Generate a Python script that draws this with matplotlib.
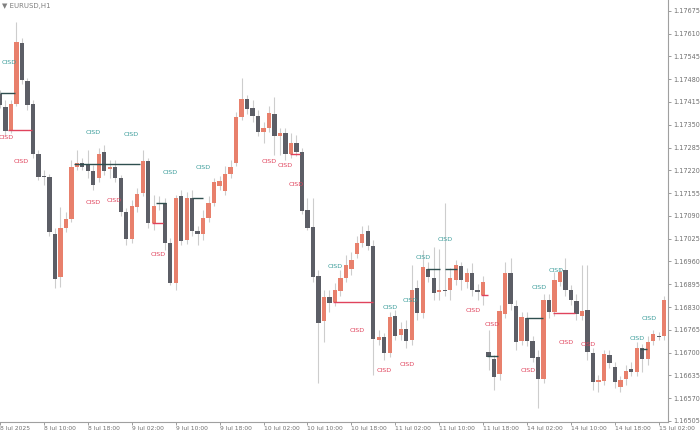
import numpy as np
import matplotlib
matplotlib.use("Agg")
from matplotlib import pyplot as plt

# EURUSD H1 candles (bar 0 = left edge)
opens = [1.17438, 1.17401, 1.17335, 1.17410, 1.17583, 1.17475, 1.17410, 1.17267, 1.17204, 1.17201,
         1.17038, 1.16915, 1.17055, 1.17081, 1.17230, 1.17241, 1.17238, 1.17218, 1.17198, 1.17273,
         1.17224, 1.17230, 1.17198, 1.17101, 1.17024, 1.17115, 1.17156, 1.17247, 1.17069, 1.17126,
         1.17126, 1.17012, 1.16898, 1.17147, 1.17021, 1.17141, 1.17047, 1.17038, 1.17084, 1.17126,
         1.17176, 1.17161, 1.17210, 1.17241, 1.17372, 1.17424, 1.17398, 1.17375, 1.17330, 1.17341,
         1.17381, 1.17318, 1.17327, 1.17267, 1.17298, 1.17273, 1.17106, 1.17058, 1.16918, 1.16790,
         1.16858, 1.16844, 1.16875, 1.16912, 1.16938, 1.16981, 1.17012, 1.17047, 1.17004, 1.16736,
         1.16744, 1.16699, 1.16804, 1.16750, 1.16767, 1.16736, 1.16884, 1.16813, 1.16938, 1.16912,
         1.16873, 1.16878, 1.16878, 1.16907, 1.16947, 1.16901, 1.16927, 1.16878, 1.16864, 1.16702,
         1.16682, 1.16639, 1.16810, 1.16927, 1.16833, 1.16733, 1.16799, 1.16733, 1.16687, 1.16625,
         1.16850, 1.16816, 1.16901, 1.16935, 1.16878, 1.16847, 1.16804, 1.16821, 1.16699, 1.16616,
         1.16619, 1.16693, 1.16659, 1.16602, 1.16625, 1.16653, 1.16645, 1.16713, 1.16682, 1.16733,
         1.16747, 1.16747]
highs = [1.17449, 1.17421, 1.17421, 1.17643, 1.17598, 1.17483, 1.17421, 1.17278, 1.17221, 1.17210,
         1.17055, 1.17115, 1.17101, 1.17250, 1.17278, 1.17256, 1.17278, 1.17236, 1.17284, 1.17293,
         1.17250, 1.17250, 1.17207, 1.17112, 1.17135, 1.17170, 1.17278, 1.17256, 1.17150, 1.17147,
         1.17141, 1.17027, 1.17150, 1.17164, 1.17159, 1.17164, 1.17061, 1.17106, 1.17147, 1.17198,
         1.17204, 1.17233, 1.17250, 1.17387, 1.17483, 1.17435, 1.17421, 1.17392, 1.17358, 1.17404,
         1.17429, 1.17341, 1.17341, 1.17327, 1.17321, 1.17284, 1.17141, 1.17141, 1.16935, 1.16878,
         1.16878, 1.16898, 1.16935, 1.16978, 1.16987, 1.17032, 1.17061, 1.17064, 1.17021, 1.16764,
         1.16756, 1.16816, 1.16821, 1.16787, 1.16793, 1.16950, 1.16907, 1.16992, 1.16958, 1.17001,
         1.16995, 1.17126, 1.16941, 1.16964, 1.16958, 1.16941, 1.16956, 1.16895, 1.16918, 1.16764,
         1.16693, 1.16835, 1.16958, 1.16970, 1.16850, 1.16816, 1.16816, 1.16747, 1.16707, 1.16867,
         1.16867, 1.16930, 1.16941, 1.16970, 1.16892, 1.16867, 1.16950, 1.16950, 1.16713, 1.16636,
         1.16707, 1.16707, 1.16673, 1.16633, 1.16665, 1.16673, 1.16730, 1.16724, 1.16747, 1.16764,
         1.16759, 1.16861]
lows = [1.17398, 1.17321, 1.17327, 1.17404, 1.17466, 1.17392, 1.17256, 1.17193, 1.17178, 1.17032,
        1.16884, 1.16887, 1.17044, 1.17072, 1.17221, 1.17221, 1.17198, 1.17164, 1.17187, 1.17207,
        1.17198, 1.17187, 1.17089, 1.17007, 1.17012, 1.17101, 1.17147, 1.17055, 1.17049, 1.17106,
        1.16992, 1.16892, 1.16878, 1.17007, 1.17009, 1.17032, 1.17007, 1.17021, 1.17072, 1.17118,
        1.17164, 1.17150, 1.17198, 1.17233, 1.17364, 1.17381, 1.17358, 1.17318, 1.17298, 1.17330,
        1.17264, 1.17264, 1.17250, 1.17256, 1.17261, 1.17095, 1.17049, 1.16901, 1.16613, 1.16730,
        1.16816, 1.16833, 1.16861, 1.16901, 1.16921, 1.16970, 1.17001, 1.16992, 1.16636, 1.16722,
        1.16679, 1.16687, 1.16736, 1.16736, 1.16713, 1.16722, 1.16793, 1.16799, 1.16901, 1.16850,
        1.16850, 1.16861, 1.16850, 1.16892, 1.16878, 1.16884, 1.16861, 1.16850, 1.16836, 1.16650,
        1.16593, 1.16622, 1.16799, 1.16821, 1.16707, 1.16722, 1.16719, 1.16673, 1.16542, 1.16613,
        1.16799, 1.16804, 1.16890, 1.16861, 1.16836, 1.16793, 1.16793, 1.16679, 1.16593, 1.16588,
        1.16607, 1.16656, 1.16599, 1.16588, 1.16607, 1.16633, 1.16633, 1.16645, 1.16665, 1.16722,
        1.16736, 1.16736]
closes = [1.17407, 1.17333, 1.17410, 1.17586, 1.17478, 1.17407, 1.17267, 1.17201, 1.17201, 1.17044,
          1.16910, 1.17055, 1.17081, 1.17230, 1.17241, 1.17230, 1.17218, 1.17178, 1.17267, 1.17218,
          1.17230, 1.17198, 1.17101, 1.17024, 1.17118, 1.17153, 1.17247, 1.17069, 1.17118, 1.17124,
          1.17012, 1.16898, 1.17141, 1.17018, 1.17141, 1.17047, 1.17038, 1.17084, 1.17126, 1.17187,
          1.17190, 1.17210, 1.17230, 1.17372, 1.17424, 1.17395, 1.17375, 1.17330, 1.17341, 1.17384,
          1.17318, 1.17327, 1.17267, 1.17298, 1.17273, 1.17104, 1.17055, 1.16915, 1.16784, 1.16858,
          1.16841, 1.16878, 1.16912, 1.16950, 1.16964, 1.17012, 1.17038, 1.17004, 1.16739, 1.16744,
          1.16699, 1.16801, 1.16747, 1.16767, 1.16733, 1.16878, 1.16813, 1.16944, 1.16915, 1.16870,
          1.16878, 1.16875, 1.16912, 1.16950, 1.16907, 1.16927, 1.16878, 1.16873, 1.16901, 1.16687,
          1.16630, 1.16819, 1.16927, 1.16839, 1.16730, 1.16801, 1.16733, 1.16685, 1.16625, 1.16850,
          1.16816, 1.16907, 1.16930, 1.16878, 1.16850, 1.16810, 1.16819, 1.16702, 1.16616, 1.16622,
          1.16696, 1.16670, 1.16616, 1.16622, 1.16647, 1.16645, 1.16713, 1.16682, 1.16730, 1.16753,
          1.16744, 1.16850]

# CISD labels: (bar, price)
cisd_bull = [(1.6, 1.17529), (16.9, 1.17327), (23.9, 1.17321), (31.0, 1.17213), (37.0, 1.17227),
             (61.0, 1.16947), (71.0, 1.16830), (74.7, 1.16850), (77.0, 1.16970), (81.0, 1.17024),
             (98.2, 1.16887), (101.3, 1.16935), (116.0, 1.16741), (118.2, 1.16796)]
cisd_bear = [(1.15, 1.17315), (3.8, 1.17244), (16.9, 1.17129), (20.8, 1.17135), (28.8, 1.16981),
             (49.0, 1.17244), (51.9, 1.17233), (53.9, 1.17181), (65.0, 1.16762), (69.9, 1.16650),
             (74.1, 1.16665), (86.2, 1.16819), (89.6, 1.16779), (96.2, 1.16650), (103.1, 1.16730),
             (107.1, 1.16724)]

# CISD levels: (from bar, to bar, price)
levels_bull = [(0, 2.7, 1.17441), (13.5, 25.5, 1.17238), (28.4, 30.2, 1.17126), (35, 37, 1.17141),
               (77.8, 80.1, 1.16938), (81, 83.2, 1.16938), (88.7, 90.7, 1.16690), (95.8, 98.9, 1.16799),
               (116.6, 117.9, 1.16710)]
levels_bear = [(1.5, 5.8, 1.17335), (27.7, 29.7, 1.17069), (52.8, 54.6, 1.17267), (60.7, 68, 1.16844),
               (87.6, 88.9, 1.16864), (100.7, 104.7, 1.16813)]

time_labels = ["8 Jul 2025", "8 Jul 10:00", "8 Jul 18:00", "9 Jul 02:00", "9 Jul 10:00", "9 Jul 18:00",
               "10 Jul 02:00", "10 Jul 10:00", "10 Jul 18:00", "11 Jul 02:00", "11 Jul 10:00",
               "11 Jul 18:00", "14 Jul 02:00", "14 Jul 10:00", "14 Jul 18:00", "15 Jul 02:00"]

BULL = '#e8806c'
BEAR = '#5c5e66'
WICK = '#cdcdcd'
TEAL = '#3c9d9b'
RED = '#e0435c'
AXIS = '#8c8c8c'

o = np.array(opens)
c = np.array(closes)
idx = np.arange(len(o))
up = c >= o

fig = plt.figure(figsize=(7, 4.3), dpi=100)
ax = fig.add_axes([0, 8 / 430, 668 / 700, 422 / 430])

ax.vlines(idx, lows, highs, color=WICK, lw=0.8, zorder=1)
bottom = np.minimum(o, c)
height = np.maximum(np.abs(c - o), 0.000025)
ax.bar(idx[up], height[up], bottom=bottom[up], width=0.78, color=BULL, zorder=2)
ax.bar(idx[~up], height[~up], bottom=bottom[~up], width=0.78, color=BEAR, zorder=2)

for a, b, p in levels_bull:
    ax.hlines(p, a, b, color='#2f4f4f', lw=1.0, zorder=3)
for a, b, p in levels_bear:
    ax.hlines(p, a, b, color=RED, lw=1.0, zorder=3)

for x, p in cisd_bull:
    ax.text(x, p, 'CISD', color=TEAL, fontsize=4.6, ha='center', va='center', zorder=4)
for x, p in cisd_bear:
    ax.text(x, p, 'CISD', color=RED, fontsize=4.6, ha='center', va='center', zorder=4)

ax.set_xlim(0, 668 / 5.49)
ax.set_ylim(1.16502, 1.17706)

yt = np.round(np.arange(1.16505, 1.17676, 0.00065), 5)
ax.set_yticks(yt)
ax.set_yticklabels([f"{v:.5f}" for v in yt])
ax.yaxis.tick_right()
ax.set_xticks(np.arange(0, 121, 8))
ax.set_xticklabels(time_labels, ha='left')

ax.tick_params(axis='y', direction='out', length=2.5, width=0.6, color=AXIS, labelsize=4.7,
               labelcolor='#707070', pad=1)
ax.tick_params(axis='x', direction='out', length=2.5, width=0.6, color=AXIS, labelsize=4.3,
               labelcolor='#707070', pad=0.3)

for side in ['top', 'left']:
    ax.spines[side].set_visible(False)
for side in ['right', 'bottom']:
    ax.spines[side].set_color('#a0a0a0')
    ax.spines[side].set_linewidth(0.8)

fig.text(0.003, 0.992, '\u25bc EURUSD,H1', fontsize=5, color='#808080', ha='left', va='top')

fig.savefig('out.png', dpi=100, facecolor='white')
